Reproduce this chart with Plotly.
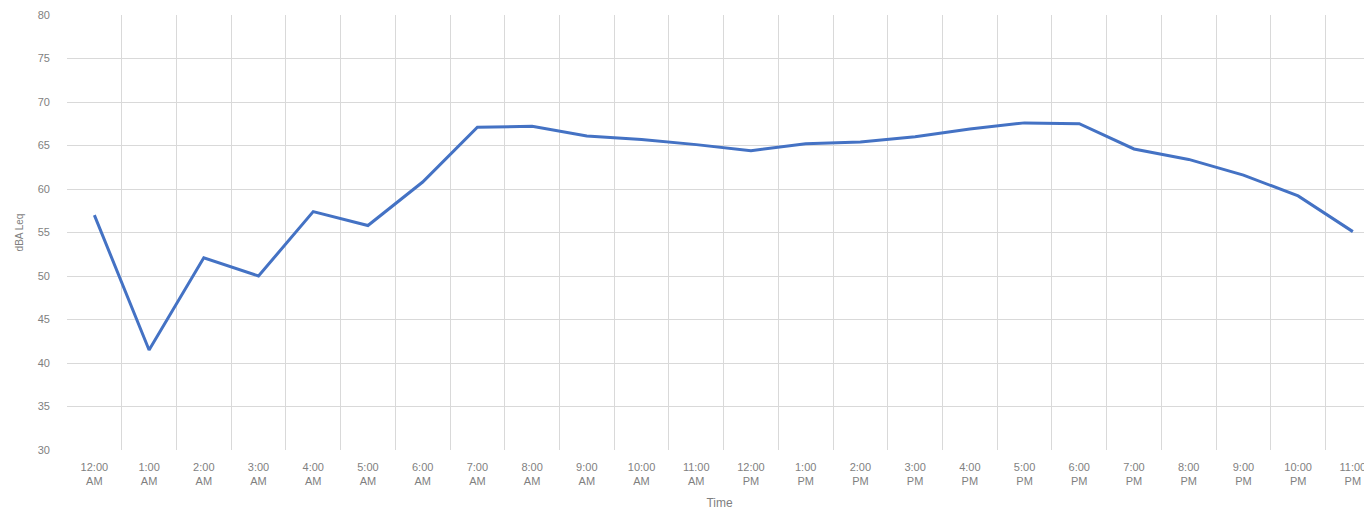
import plotly.graph_objects as go

hours = ["12:00<br>AM", "1:00<br>AM", "2:00<br>AM", "3:00<br>AM", "4:00<br>AM", "5:00<br>AM",
         "6:00<br>AM", "7:00<br>AM", "8:00<br>AM", "9:00<br>AM", "10:00<br>AM", "11:00<br>AM",
         "12:00<br>PM", "1:00<br>PM", "2:00<br>PM", "3:00<br>PM", "4:00<br>PM", "5:00<br>PM",
         "6:00<br>PM", "7:00<br>PM", "8:00<br>PM", "9:00<br>PM", "10:00<br>PM", "11:00<br>PM"]
dba_leq = [57.0, 41.5, 52.1, 50.0, 57.4, 55.8, 60.8, 67.1, 67.2, 66.1, 65.7, 65.1,
           64.4, 65.2, 65.4, 66.0, 66.9, 67.6, 67.5, 64.6, 63.4, 61.6, 59.2, 55.1]

fig = go.Figure()
fig.add_trace(go.Scatter(x=hours, y=dba_leq, mode="lines",
                         line=dict(color="#4472C4", width=3), showlegend=False))

font_col = "#7f7f7f"
fig.update_layout(
    width=1364, height=508,
    margin=dict(l=59, r=0, t=7, b=66),
    paper_bgcolor="white", plot_bgcolor="white",
    font=dict(family="Liberation Sans, Arial, sans-serif", size=11, color=font_col),
    xaxis=dict(
        type="category", range=[-0.5, 23.35], tickson="boundaries",
        showgrid=True, gridcolor="#d9d9d9", gridwidth=1,
        ticks="", showline=False, zeroline=False,
        ticklabelstandoff=9,
        tickfont=dict(size=11, color=font_col),
        title=dict(text="Time", font=dict(size=12, color=font_col), standoff=12),
    ),
    yaxis=dict(
        range=[30, 80], dtick=5, tick0=30,
        showgrid=True, gridcolor="#d9d9d9", gridwidth=1,
        ticks="", showline=False, zeroline=False,
        ticklabelstandoff=16,
        tickfont=dict(size=11, color=font_col),
        title=dict(text="dBA Leq", font=dict(size=10, color=font_col), standoff=12),
    ),
)
fig.write_html("out.html")
